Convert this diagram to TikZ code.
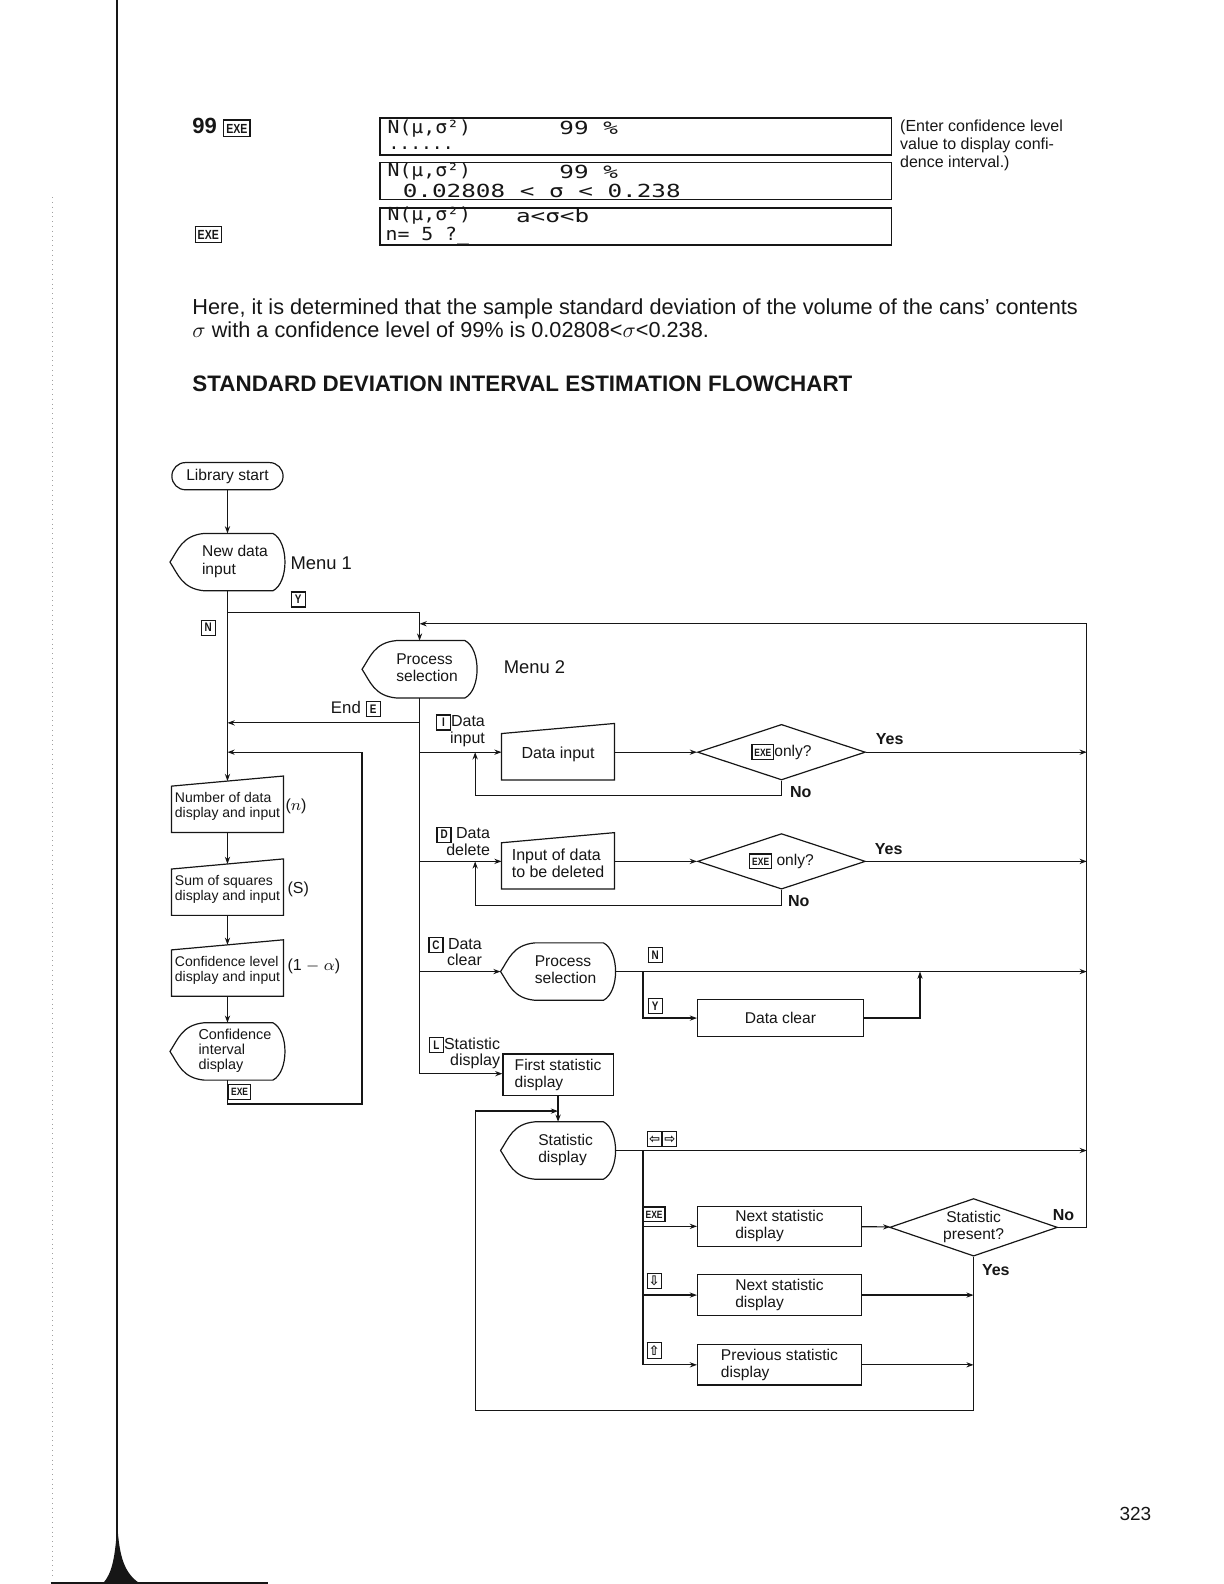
\documentclass[tikz,border=0pt]{standalone}
\usepackage{fontspec}
\setmainfont{Liberation Sans}
\newfontfamily\keyfont[FakeStretch=0.8]{Liberation Sans}
\newfontfamily\lcdfont[FakeStretch=1.35]{DejaVu Sans Mono}
\newfontfamily\lcdmid[FakeStretch=1.1]{DejaVu Sans Mono}
\newfontfamily\lcdnarrow{DejaVu Sans Mono}
\newfontfamily\arrowfont{DejaVu Sans}
\usepackage{xcolor}
\usetikzlibrary{calc,shapes.geometric,arrows.meta}
\definecolor{ink}{HTML}{161616}
\definecolor{scan}{HTML}{A0A0A0}
% small boxed calculator keys
\newcommand{\Key}[1]{{\setlength{\fboxsep}{1pt}\setlength{\fboxrule}{0.6pt}%
  \fbox{\rule[-0.4pt]{0pt}{4.9pt}\makebox[4.4pt]{\keyfont\fontsize{6.2}{6.5}\selectfont\bfseries #1}}}}
\newcommand{\ExeKey}{{\setlength{\fboxsep}{0.9pt}\setlength{\fboxrule}{0.6pt}%
  \fbox{\rule[-0.4pt]{0pt}{4.9pt}\keyfont\fontsize{5.3}{5.5}\selectfont\bfseries EXE}}}
\newcommand{\BigKey}[1]{{\setlength{\fboxsep}{1pt}\setlength{\fboxrule}{0.6pt}%
  \fbox{\rule[-0.4pt]{0pt}{5.6pt}\keyfont\fontsize{6.6}{7}\selectfont\bfseries #1}}}
\newcommand{\ArrKey}[1]{\Key{\arrowfont\fontsize{6.6}{6.5}\selectfont #1}}
% text of a display symbol, set a little right of centre
\newcommand{\DispText}[1]{\hspace*{7.5pt}\begin{tabular}{@{}l@{}}#1\end{tabular}}
\tikzset{
  flow/.style={draw=ink, line width=0.6pt},
  arr/.style={flow, -{Stealth[length=3.6pt,width=2.6pt]}},
  terminal/.style={draw=ink, line width=0.6pt, rounded corners=6.8pt, minimum width=55.6pt,
    minimum height=13.6pt, inner sep=1pt},
  dispBox/.style={minimum width=57.1pt, minimum height=28.3pt, inner sep=0pt},
  manBox/.style={minimum width=55.6pt, minimum height=25.3pt, inner sep=0pt, align=left},
  procBox/.style={draw=ink, line width=0.6pt, minimum width=81.9pt, minimum height=20.2pt,
    inner sep=0pt, align=left},
  decide/.style={diamond, draw=ink, line width=0.6pt, aspect=3, minimum width=83.9pt,
    minimum height=27.8pt, inner sep=0pt},
  lcdBox/.style={draw=ink, line width=0.75pt, minimum width=255.8pt, minimum height=18.6pt, inner sep=0pt},
  lcdTxt/.style={anchor=west, inner sep=0pt, text=ink},
  branchLbl/.style={anchor=south east, align=right, inner sep=0pt, font=\fontsize{8}{8.4}\selectfont},
  yesno/.style={inner sep=0pt, font=\bfseries\fontsize{8}{9}\selectfont},
  sideLbl/.style={anchor=west, inner sep=0pt, font=\fontsize{8}{9}\selectfont},
  menuLbl/.style={anchor=west, inner sep=0pt, font=\fontsize{9.2}{10}\selectfont},
  keyLbl/.style={inner sep=0pt},
}
% outline of a display symbol around a node
\newcommand{\DispOutline}[1]{%
  \draw[flow] ($(#1.north west)+(34,0)$) -- ($(#1.north east)+(-12,0)$)
    .. controls ($(#1.north east)+(4,8)$) and ($(#1.south east)+(4,-8)$) .. ($(#1.south east)+(-12,0)$)
    -- ($(#1.south west)+(34,0)$)
    .. controls ($(#1.south west)+(12,-2)$) and ($(#1.west)+(8,12)$) .. (#1.west)
    .. controls ($(#1.west)+(8,-12)$) and ($(#1.north west)+(12,2)$) .. ($(#1.north west)+(34,0)$);}
% outline of a manual input symbol around a node
\newcommand{\ManualOutline}[1]{%
  \draw[flow] (#1.south west) -- ($(#1.north west)+(0,5)$) -- ($(#1.north east)+(0,-5)$)
    -- (#1.south east) -- cycle;}

\begin{document}
\begin{tikzpicture}[x=0.5055pt, y=-0.5055pt, font=\fontsize{7.8}{8.6}\selectfont, text=ink]
  \useasboundingbox (0pt,0pt) rectangle (612pt,-792pt);

  % page edge from the scan
  \draw[draw=ink, line width=1pt] (116,0) -- (116,1545);
  \fill[ink] (102,1566) .. controls (111,1556) and (114,1540) .. (116,1508)
    .. controls (118,1540) and (123,1556) .. (138,1566) -- cycle;
  \draw[draw=ink, line width=0.9pt] (50,1566) -- (265,1566);
  \draw[draw=scan, line width=0.4pt, dotted] (52,195) -- (52,1560);

  % key sequence and displays
  \node[anchor=west, inner sep=0pt, font=\bfseries\fontsize{11}{12}\selectfont] (inA) at (190,126) {99 \BigKey{EXE}};
  \node[anchor=west, inner sep=0pt] (inB) at (192,232) {\BigKey{EXE}};

  \node[lcdBox] (scrA) at (629,135) {};
  \node[lcdBox] (scrB) at (629,179) {};
  \node[lcdBox] (scrC) at (629,224) {};
  \node[lcdTxt] (scrAa) at (383,127) {\lcdmid\fontsize{9}{9}\selectfont N(μ,σ²)};
  \node[lcdTxt] (scrAb) at (553,127) {\lcdfont\fontsize{9}{9}\selectfont 99 \%};
  \node[lcdTxt] (scrAc) at (384,147) {\lcdnarrow\fontsize{9}{9}\selectfont ......};
  \node[lcdTxt] (scrBa) at (383,170) {\lcdmid\fontsize{9}{9}\selectfont N(μ,σ²)};
  \node[lcdTxt] (scrBb) at (553,170) {\lcdfont\fontsize{9}{9}\selectfont 99 \%};
  \node[lcdTxt] (scrBc) at (398,189) {\lcdfont\fontsize{9}{9}\selectfont 0.02808 < σ < 0.238};
  \node[lcdTxt] (scrCa) at (383,213) {\lcdmid\fontsize{9}{9}\selectfont N(μ,σ²)};
  \node[lcdTxt] (scrCb) at (510,213) {\lcdfont\fontsize{9}{9}\selectfont a<σ<b};
  \node[lcdTxt] (scrCc) at (381,233) {\lcdmid\fontsize{9}{9}\selectfont n= 5 ?\_};

  \node[anchor=north west, align=left, inner sep=0pt, font=\fontsize{8}{9.1}\selectfont] (note) at (890,118)
    {(Enter confidence level\\value to display confi-\\dence interval.)};

  \node[anchor=north west, align=left, inner sep=0pt, font=\fontsize{10.85}{11.6}\selectfont] (para) at (190,295)
    {Here, it is determined that the sample standard deviation of the volume of the cans’ contents\\
     $\sigma$ with a confidence level of 99\% is 0.02808<$\sigma$<0.238.};
  \node[anchor=west, inner sep=0pt, font=\bfseries\fontsize{11.2}{12}\selectfont] (title) at (190,380)
    {STANDARD DEVIATION INTERVAL ESTIMATION FLOWCHART};

  % menu 1 column
  \node[terminal] (start) at (225,471) {Library start};
  \node[dispBox] (newdata) at (225,556) {\DispText{New data\\input}};
  \node[menuLbl] (menuA) at (287,557) {Menu 1};
  \node[manBox, font=\fontsize{7}{7.6}\selectfont] (numdata) at (225,798) {Number of data\\display and input};
  \node[manBox, font=\fontsize{7}{7.6}\selectfont] (sumsq) at (225,880) {Sum of squares\\display and input};
  \node[manBox, font=\fontsize{7}{7.6}\selectfont] (conflev) at (225,960) {Confidence level\\display and input};
  \node[dispBox, font=\fontsize{7.2}{7.6}\selectfont] (confint) at (225,1040) {\DispText{Confidence\\interval\\display}};
  \DispOutline{newdata}
  \ManualOutline{numdata}
  \ManualOutline{sumsq}
  \ManualOutline{conflev}
  \DispOutline{confint}
  \node[sideLbl] (lblN) at (282,798) {($n$)};
  \node[sideLbl] (lblS) at (284,880) {(S)};
  \node[sideLbl] (lblA) at (284,956) {(1 $-$ $\alpha$)};

  \coordinate (jYr) at (415,606);
  \coordinate (jEnd) at (225,715);
  \coordinate (jLoop) at (225,744);
  \coordinate (cBot) at (225,1092);
  \coordinate (cRight) at (358,1092);
  \coordinate (cTop) at (358,744);

  \draw[arr] (start) -- (newdata);
  \draw[arr] (newdata) -- (numdata);
  \draw[arr] (numdata) -- (sumsq);
  \draw[arr] (sumsq) -- (conflev);
  \draw[arr] (conflev) -- (confint);
  \draw[arr] (confint) -- (cBot) -- (cRight) -- (cTop) -- (jLoop);
  \node[keyLbl] (keyY) at (295,593) {\Key{Y}};
  \node[keyLbl] (keyN) at (206,621) {\Key{N}};
  \node[keyLbl] (keyExeA) at (237,1080) {\ExeKey};

  % menu 2
  \node[dispBox] (procsel) at (415,662) {\DispText{Process\\selection}};
  \node[menuLbl] (menuB) at (498,660) {Menu 2};
  \DispOutline{procsel}
  \draw[arr] (newdata) |- (jYr) -- (procsel);

  \coordinate (endR) at (415,715);
  \coordinate (busBot) at (415,1062);
  \coordinate (rowI) at (415,744);
  \coordinate (rowD) at (415,852);
  \coordinate (rowC) at (415,961);
  \draw[flow] (procsel) -- (busBot);
  \draw[arr] (endR) -- (jEnd);
  \node[anchor=south, inner sep=0pt, font=\fontsize{8.4}{9}\selectfont] (lblEnd) at (352,710) {End \Key{E}};

  % data input
  \node[manBox, font=\fontsize{8}{8.6}\selectfont, minimum width=56.1pt] (din) at (552,746) {Data input};
  \ManualOutline{din}
  \node[decide] (diaI) at (773,744) {\ExeKey only?};
  \node[branchLbl] (lblI) at (480,739) {\Key{I}Data\\input};
  \coordinate (busI) at (1075,744);
  \coordinate (noIa) at (773,787);
  \coordinate (noIb) at (470,787);
  \coordinate (noIc) at (470,744);
  \draw[arr] (rowI) -- (rowI -| din.west);
  \draw[arr] (din.east |- diaI.west) -- (diaI);
  \draw[arr] (diaI) -- (busI);
  \draw[arr] (diaI.south) -- (noIa) -- (noIb) -- (noIc);
  \node[yesno] (yesI) at (880,731) {Yes};
  \node[yesno] (noI) at (792,783) {No};

  % data delete
  \node[manBox, font=\fontsize{8}{8.6}\selectfont, minimum width=56.1pt] (ddel) at (552,854) {Input of data\\to be deleted};
  \ManualOutline{ddel}
  \node[decide] (diaD) at (773,852) {\ExeKey\ only?};
  \node[branchLbl] (lblD) at (485,847) {\Key{D} Data\\delete};
  \coordinate (busD) at (1075,852);
  \coordinate (noDa) at (773,896);
  \coordinate (noDb) at (470,896);
  \coordinate (noDc) at (470,852);
  \draw[arr] (rowD) -- (rowD -| ddel.west);
  \draw[arr] (ddel.east |- diaD.west) -- (diaD);
  \draw[arr] (diaD) -- (busD);
  \draw[arr] (diaD.south) -- (noDa) -- (noDb) -- (noDc);
  \node[yesno] (yesD) at (879,840) {Yes};
  \node[yesno] (noD) at (790,891) {No};

  % data clear
  \node[dispBox] (clrsel) at (552,961) {\DispText{Process\\selection}};
  \DispOutline{clrsel}
  \node[branchLbl] (lblC) at (477,956) {\Key{C} Data\\clear};
  \node[procBox, minimum height=18.7pt, minimum width=82.9pt, align=center] (dclr) at (772,1007) {Data clear};
  \coordinate (busC) at (1075,961);
  \coordinate (jC) at (636,961);
  \coordinate (jCy) at (636,1007);
  \coordinate (dclrR) at (910,1007);
  \coordinate (dclrUp) at (910,961);
  \draw[arr] (rowC) -- (clrsel);
  \draw[arr] (clrsel) -- (busC);
  \draw[arr] (jC) -- (jCy) -- (dclr);
  \draw[arr] (dclr) -- (dclrR) -- (dclrUp);
  \node[keyLbl] (keyCN) at (648,945) {\Key{N}};
  \node[keyLbl] (keyCY) at (648,995) {\Key{Y}};

  % statistic display
  \node[procBox, minimum width=55.1pt, minimum height=20.7pt] (fstat) at (552,1063) {First statistic\\display};
  \node[branchLbl] (lblL) at (495,1058) {\Key{L}Statistic\\display};
  \node[dispBox] (stat) at (552,1138) {\DispText{Statistic\\display}};
  \DispOutline{stat}
  \node[procBox] (nstatA) at (771,1213) {Next statistic\\display};
  \node[procBox] (nstatB) at (771,1281) {Next statistic\\display};
  \node[procBox] (pstat) at (771,1350) {Previous statistic\\display};
  \node[decide, minimum height=28.8pt, align=center] (diaS) at (963,1214) {Statistic\\present?};
  \coordinate (busS) at (1075,1138);
  \coordinate (jS) at (636,1138);
  \coordinate (jSa) at (636,1213);
  \coordinate (jSb) at (636,1281);
  \coordinate (jSc) at (636,1350);
  \coordinate (lpA) at (963,1395);
  \coordinate (lpB) at (470,1395);
  \coordinate (lpC) at (470,1099);
  \coordinate (lpD) at (552,1099);
  \coordinate (noS) at (1075,1214);
  \coordinate (busTopR) at (1075,617);
  \coordinate (retL) at (415,617);
  \draw[arr] (busBot) -- (busBot -| fstat.west);
  \draw[arr] (fstat) -- (stat);
  \draw[arr] (stat) -- (busS);
  \draw[flow] (jS) -- (jSc);
  \draw[arr] (jSa) -- (nstatA);
  \draw[arr] (jSb) -- (nstatB);
  \draw[arr] (jSc) -- (pstat);
  \draw[arr] (nstatA) -- (diaS);
  \draw[arr] (nstatB) -- (nstatB -| diaS);
  \draw[arr] (pstat) -- (pstat -| diaS);
  \draw[arr] (diaS.south) -- (lpA) -- (lpB) -- (lpC) -- (lpD);
  \draw[arr] (diaS) -- (noS) -- (busTopR) -- (retL);
  \node[keyLbl] (keyLR) at (655,1127) {\ArrKey{⇦}\ArrKey{⇨}};
  \node[keyLbl] (keyExeB) at (647,1201) {\ExeKey};
  \node[keyLbl] (keyDn) at (647,1267) {\ArrKey{⇩}};
  \node[keyLbl] (keyUp) at (647,1336) {\ArrKey{⇧}};
  \node[yesno] (noSl) at (1052,1202) {No};
  \node[yesno] (yesS) at (985,1256) {Yes};

  \node[inner sep=0pt, font=\fontsize{9.5}{10}\selectfont] (pageNo) at (1123,1497) {323};
\end{tikzpicture}
\end{document}
